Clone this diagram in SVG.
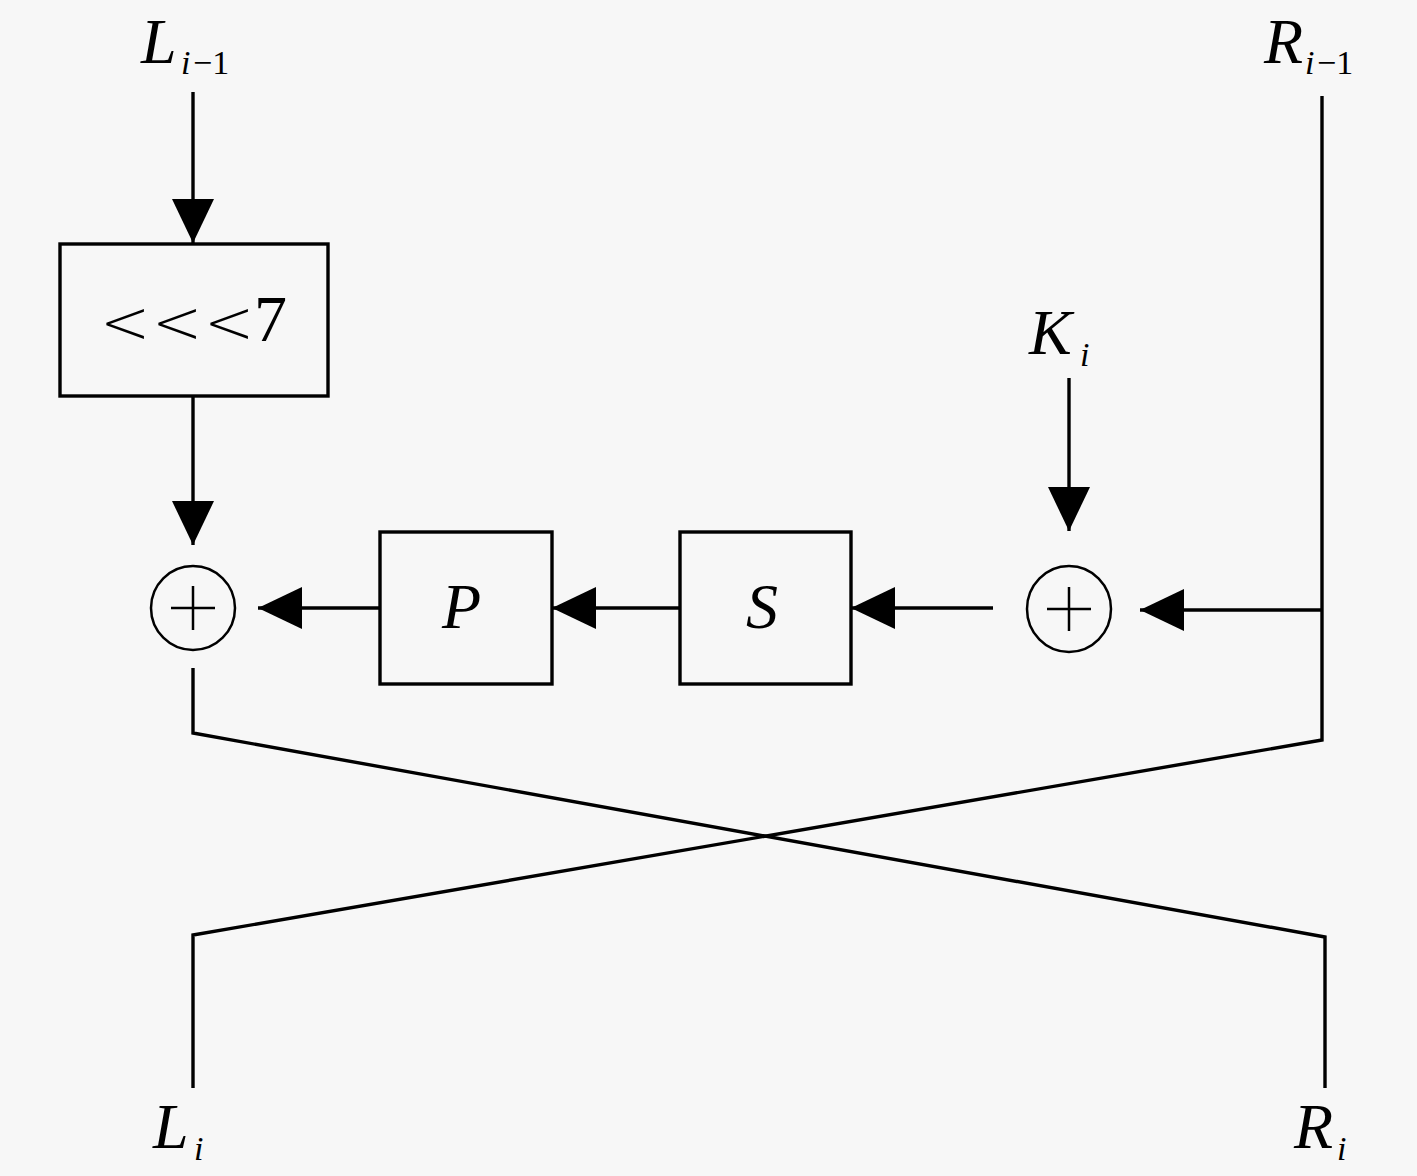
<svg xmlns="http://www.w3.org/2000/svg" width="1417" height="1176" viewBox="0 0 1417 1176">
<style>
.ln{fill:none;stroke:#000;stroke-width:3.4;stroke-linejoin:miter}
.box{fill:none;stroke:#000;stroke-width:3.4}
.xor{fill:none;stroke:#000;stroke-width:2.5}
.var{font-family:"Liberation Serif","DejaVu Serif",serif;font-style:italic;font-size:64px;fill:#000}
.sub{font-family:"Liberation Serif","DejaVu Serif",serif;font-style:italic;font-size:34px;fill:#000}
.subn{font-family:"Liberation Serif","DejaVu Serif",serif;font-size:34px;fill:#000}
.op{font-family:"DejaVu Sans","Liberation Sans",sans-serif;font-weight:200;font-size:60px;fill:#000}
.num{font-family:"Liberation Serif","DejaVu Serif",serif;font-size:66px;fill:#000}
</style>
<defs>
<marker id="ah" markerUnits="userSpaceOnUse" markerWidth="46" markerHeight="44" refX="44" refY="21" orient="auto" viewBox="0 0 46 44">
<path d="M0,0 L44,21 L0,42 z" fill="#000"/>
</marker>
</defs>
<rect width="1417" height="1176" fill="#f7f7f7"/>

<g id="connectors">
<line class="ln" x1="193" y1="92" x2="193" y2="243" marker-end="url(#ah)"/>
<line class="ln" x1="193" y1="396" x2="193" y2="545" marker-end="url(#ah)"/>
<line class="ln" x1="380" y1="608" x2="258" y2="608" marker-end="url(#ah)"/>
<line class="ln" x1="680" y1="608" x2="552" y2="608" marker-end="url(#ah)"/>
<line class="ln" x1="993" y1="608" x2="851" y2="608" marker-end="url(#ah)"/>
<line class="ln" x1="1069" y1="378" x2="1069" y2="531" marker-end="url(#ah)"/>
<line class="ln" x1="1322" y1="610" x2="1140" y2="610" marker-end="url(#ah)"/>
<polyline class="ln" points="1322,96 1322,740 193,935 193,1088"/>
<polyline class="ln" points="193,668 193,733 1325,937 1325,1088"/>
</g>

<g id="label-L-in">
<text class="var" x="141" y="63">L</text>
<text class="sub" x="181" y="74">i</text>
<text class="subn" x="193" y="74">−1</text>
</g>
<g id="label-R-in">
<text class="var" x="1264" y="63">R</text>
<text class="sub" x="1305" y="74">i</text>
<text class="subn" x="1317" y="74">−1</text>
</g>

<g id="rot-box">
<rect class="box" x="60" y="244" width="268" height="152"/>
<text class="op" x="100" y="343">&lt;</text>
<text class="op" x="152" y="343">&lt;</text>
<text class="op" x="204" y="343">&lt;</text>
<text class="num" x="254" y="341">7</text>
</g>

<g id="xor-left">
<circle class="xor" cx="193" cy="608" r="42"/>
<line class="xor" x1="171" y1="608" x2="215" y2="608"/>
<line class="xor" x1="193" y1="586" x2="193" y2="630"/>
</g>

<g id="p-box">
<rect class="box" x="380" y="532" width="172" height="152"/>
<text class="var" x="442" y="628">P</text>
</g>

<g id="s-box">
<rect class="box" x="680" y="532" width="171" height="152"/>
<text class="var" x="746" y="628">S</text>
</g>

<g id="xor-right">
<ellipse class="xor" cx="1069" cy="609" rx="42" ry="43"/>
<line class="xor" x1="1047" y1="609" x2="1091" y2="609"/>
<line class="xor" x1="1069" y1="587" x2="1069" y2="631"/>
</g>

<g id="label-K">
<text class="var" x="1029" y="354">K</text>
<text class="sub" x="1080" y="366">i</text>
</g>

<g id="label-L-out">
<text class="var" x="153" y="1148">L</text>
<text class="sub" x="194" y="1160">i</text>
</g>
<g id="label-R-out">
<text class="var" x="1294" y="1148">R</text>
<text class="sub" x="1337" y="1160">i</text>
</g>
</svg>
